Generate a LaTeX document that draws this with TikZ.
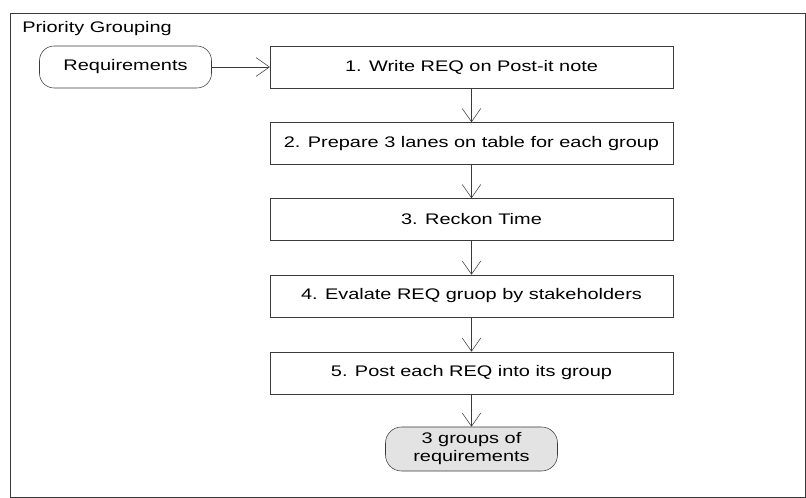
\documentclass[tikz,border=0pt]{standalone}
\usepackage{fontspec}
\setmainfont{Liberation Sans}
\newfontfamily\diagfont[FakeStretch=1.3]{Liberation Sans}
\usetikzlibrary{arrows.meta}
\definecolor{line gray}{HTML}{3A3A3A}
\colorlet{light gray}{gray!22}
\tikzset{
  diagtext/.style={font=\diagfont\fontsize{11.5}{13.5}\selectfont},
  stepbox/.style={draw=line gray, thin, minimum width=302pt, minimum height=31.5pt, inner sep=0pt, diagtext},
  endbox/.style={draw=line gray, thin, rounded corners=11pt, minimum width=129pt, minimum height=31.5pt, inner sep=0pt, align=center, diagtext},
  flow/.style={draw=line gray, thin, -{Straight Barb[length=10pt,width=14pt]}}
}
\begin{document}
\begin{tikzpicture}[x=0.75pt,y=-0.75pt]
			\useasboundingbox (0,0) rectangle (806,498);
			\draw[color=line gray, thin] (10,13) rectangle (805,497);
			\node[anchor=base west, inner sep=0pt, diagtext] (title) at (22,33) {Priority Grouping};
			\node[endbox] (req) at (125.5,67) {Requirements};
			\node[stepbox] (s1) at (471.5,67) {1. Write REQ on Post-it note};
			\node[stepbox] (s2) at (471.5,143.5) {2. Prepare 3 lanes on table for each group};
			\node[stepbox] (s3) at (471.5,219.5) {3. Reckon Time};
			\node[stepbox] (s4) at (471.5,296) {4. Evalate REQ gruop by stakeholders};
			\node[stepbox] (s5) at (471.5,373) {5. Post each REQ into its group};
			\node[endbox, fill=light gray, minimum height=33pt, rounded corners=12pt] (out) at (471.5,449) {3 groups of\\requirements};
			\draw[flow] (req) -- (s1);
			\draw[flow] (s1) -- (s2);
			\draw[flow] (s2) -- (s3);
			\draw[flow] (s3) -- (s4);
			\draw[flow] (s4) -- (s5);
			\draw[flow] (s5) -- (out);
		\end{tikzpicture}
\end{document}
